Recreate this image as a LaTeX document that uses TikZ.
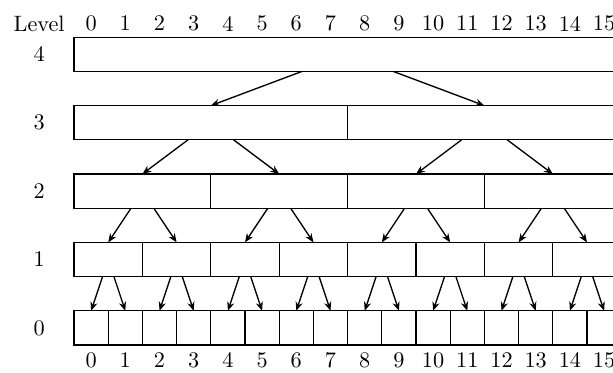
\documentclass[tikz,border=0pt]{standalone}
\usetikzlibrary{arrows.meta,positioning}
\begin{document}
\begin{tikzpicture}[x=0.54cm,y=0.54cm,
  blk/.style={draw,semithick,minimum height=0.54cm,inner sep=0pt,outer sep=0pt,anchor=south west},
  arr/.style={-{Stealth[length=4pt,width=3.2pt]},semithick}
]
  \useasboundingbox (-2.164,-0.79) rectangle (15.76,10.088);
  \clip (-2.164,-0.79) rectangle (15.76,10.088);
  % Column labels
  \node (lvl) at (-1.02,9.4) {Level};
  \foreach \i in {0,...,15}{
    \node (top\i) at (\i+0.5,9.4) {\i};
    \node (bot\i) at (\i+0.5,-0.44) {\i};
  }
  % Blocks per level
  \foreach \l in {0,...,4}{
    \pgfmathtruncatemacro{\w}{2^\l}
    \pgfmathtruncatemacro{\n}{16/\w-1}
    \node (row\l) at (-1.02,2*\l+0.5) {\l};
    \foreach \j in {0,...,\n}
      \node[blk,minimum width=\w*0.54cm] (b\l-\j) at (\j*\w,2*\l) {};
  }
  % Arrows
  \foreach \l in {1,...,4}{
    \pgfmathtruncatemacro{\n}{16/2^\l-1}
    \pgfmathtruncatemacro{\lo}{\l-1}
    \pgfmathsetmacro{\dx}{2^\l/12}
    \foreach \j in {0,...,\n}{
      \pgfmathtruncatemacro{\ka}{2*\j}
      \pgfmathtruncatemacro{\kb}{2*\j+1}
      \draw[arr] ([xshift=-\dx*0.54cm]b\l-\j.south) -- (b\lo-\ka.north);
      \draw[arr] ([xshift=\dx*0.54cm]b\l-\j.south) -- (b\lo-\kb.north);
    }
  }
\end{tikzpicture}
\end{document}
